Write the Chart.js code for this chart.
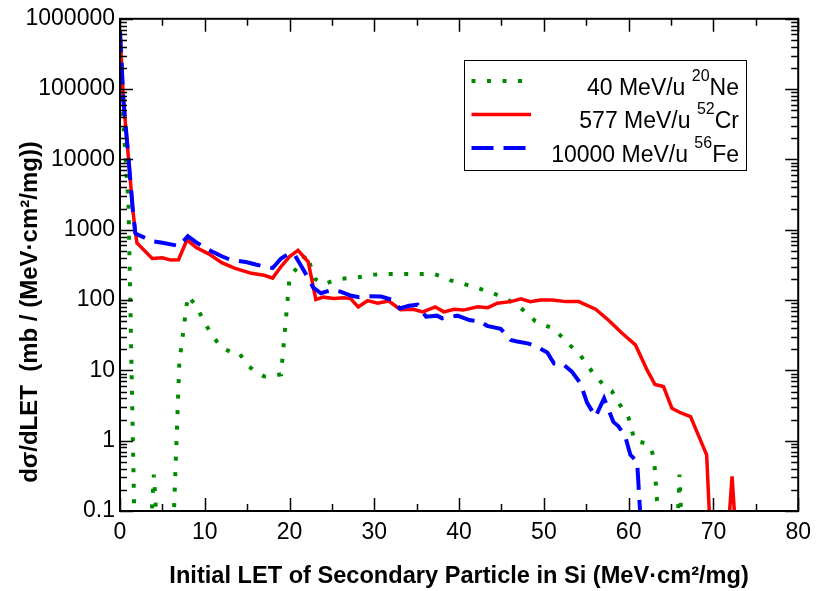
<!DOCTYPE html>
<html>
<head>
<meta charset="utf-8">
<script src="https://cdn.jsdelivr.net/npm/chart.js@4.4.1/dist/chart.umd.min.js"></script>
<style>
    html, body { margin: 0; padding: 0; background: #fff; }
    #wrap { width: 819px; height: 591px; }
</style>
</head>
<body>
<div id="wrap"><canvas id="letChart" width="819" height="591"></canvas></div>
<script>
// Data (x: LET in MeV·cm²/mg, y: dσ/dLET in mb/(MeV·cm²/mg))
const neLet = [0, 0.5, 1, 2, 3.5, 4, 4.5, 6, 7, 8, 9, 10, 11, 12, 13, 14, 15, 16, 17, 18, 19, 20, 21, 22, 23, 24, 25, 26, 28, 30, 32, 34, 36, 37, 38, 39, 40, 42, 44, 46, 47, 48, 49, 50, 51, 52, 53, 54, 55, 56, 57, 58, 59, 60, 60.7, 62, 62.6, 63, 64, 65.5, 66, 66.5];
const neSigma = [1.3e5, 2.2e4, 2300, 0.0008, 0.03, 0.33, 0.03, 0.006, 13, 115, 83, 47, 30, 21, 18.5, 18, 12, 9.5, 8.2, 8.3, 8.8, 210, 300, 450, 200, 168, 185, 200, 210, 230, 235, 235, 235, 235, 215, 190, 178, 150, 126, 97, 82, 65, 50, 44, 40, 31, 23, 18.5, 12.5, 8.5, 6.3, 5.1, 3.2, 2.1, 1.0, 0.92, 0.8, 0.55, 0.01, 0.01, 0.33, 0.01];

const crLet = [0, 0.4, 1, 1.5, 1.8, 2, 3.8, 5, 6, 6.9, 7.9, 9, 10.5, 12, 13.5, 15.5, 17, 18, 19, 20, 21, 22.2, 23.1, 24, 25.2, 26.4, 27.2, 28.1, 29.2, 30.4, 31.7, 33.1, 34.6, 35.7, 37.2, 38.2, 39.4, 40.5, 42.2, 43.4, 44.5, 46.1, 47.3, 48.4, 49.6, 51, 52.6, 54.1, 56.1, 57.6, 59.2, 60.8, 62.2, 63.1, 64.1, 65.1, 66.1, 67.3, 69.2, 70, 71.5, 72.2, 73];
const crSigma = [6.8e5, 7e4, 1.05e4, 2000, 950, 650, 390, 400, 370, 375, 720, 560, 450, 340, 285, 240, 225, 205, 300, 415, 510, 350, 102, 110, 105, 108, 105, 80, 98, 90, 97, 73, 74, 68, 80, 68, 74, 72, 80, 78, 90, 95, 104, 95, 100, 100, 95, 95, 74, 52, 34, 23, 10, 6.3, 5.9, 2.9, 2.5, 2.2, 0.63, 0.005, 0.02, 0.31, 0.01];

const feLet = [0, 0.4, 1, 1.5, 1.8, 2, 3, 4, 5, 6, 7, 8, 9, 10, 11, 12, 13, 14, 15, 16, 17, 18, 19, 20, 20.6, 21.6, 22.8, 23.7, 25, 26, 27.3, 28.2, 29.4, 30.8, 32.2, 33, 34.1, 35.1, 36.1, 37.4, 38, 39.8, 41.2, 42.4, 43.3, 44.9, 46.1, 46.7, 48.2, 49.4, 50.4, 51.2, 52.2, 53.3, 54.3, 55.1, 56.1, 57.1, 58.2, 58.8, 59.6, 60.2, 61, 62];
const feSigma = [6.8e5, 7e4, 1.05e4, 2000, 900, 860, 760, 680, 655, 620, 585, 810, 660, 560, 480, 420, 375, 360, 345, 320, 300, 285, 390, 465, 440, 275, 150, 125, 140, 132, 115, 110, 113, 112, 100, 76, 83, 86, 58, 60, 55, 60, 52, 50, 43, 39, 27, 26, 24, 21, 18, 12.5, 12.4, 9.6, 6.6, 3.45, 2.2, 4.0, 1.85, 1.6, 1.15, 0.63, 0.5, 0.005];

const xTicks = [0, 10, 20, 30, 40, 50, 60, 70, 80];
const yTicks = [0.1, 1, 10, 100, 1000, 10000, 100000, 1000000];
const yTickLabels = ['0.1', '1', '10', '100', '1000', '10000', '100000', '1000000'];

const legendEnergies = ['40 MeV/u', '577 MeV/u', '10000 MeV/u'];
const legendMasses = ['20', '52', '56'];
const legendElements = ['Ne', 'Cr', 'Fe'];

const xTitle = 'Initial LET of Secondary Particle in Si (MeV\u00b7cm\u00b2/mg)';
const yTitle = 'd\u03c3/dLET  (mb / (MeV\u00b7cm\u00b2/mg))';

const tickFont = '"Liberation Sans", Arial, sans-serif';
const titleFont = '"Liberation Sans Narrow", "Liberation Sans", Arial, sans-serif';

function toPoints(xs, ys) {
    return xs.map((x, i) => ({ x: x, y: ys[i] }));
}

// Box around the plot and inward ticks on all four sides
const frameTicks = {
    id: 'frameTicks',
    afterDraw(chart) {
        const { ctx, chartArea: a, scales: { x, y } } = chart;
        ctx.save();
        ctx.strokeStyle = '#000';
        ctx.lineWidth = 1.5;
        ctx.beginPath();
        for (let v = 0; v <= 80; v += 5) {
            const px = Math.round(x.getPixelForValue(v)) + 0.5;
            const len = v % 10 === 0 ? 13 : 7;
            ctx.moveTo(px, a.bottom); ctx.lineTo(px, a.bottom - len);
            ctx.moveTo(px, a.top); ctx.lineTo(px, a.top + len);
        }
        yTicks.forEach(d => {
            for (let m = 1; m <= 9; m++) {
                const v = d * m;
                if (v > 1e6 * 1.0001) break;
                const py = Math.round(y.getPixelForValue(v)) + 0.5;
                const len = m === 1 ? 13 : 7;
                ctx.moveTo(a.left, py); ctx.lineTo(a.left + len, py);
                ctx.moveTo(a.right, py); ctx.lineTo(a.right - len, py);
            }
        });
        ctx.stroke();
        ctx.lineWidth = 2;
        ctx.strokeRect(a.left, a.top, a.right - a.left, a.bottom - a.top);
        ctx.restore();
    }
};

// Y axis title, sitting low beside the axis as in the original
const yAxisTitle = {
    id: 'yAxisTitle',
    afterDraw(chart) {
        const ctx = chart.ctx;
        ctx.save();
        ctx.translate(30, 312);
        ctx.rotate(-Math.PI / 2);
        ctx.fillStyle = '#000';
        ctx.font = 'bold 24px ' + titleFont;
        ctx.textAlign = 'center';
        ctx.textBaseline = 'middle';
        ctx.fillText(yTitle, 0, 0);
        ctx.restore();
    }
};

// Legend with superscript mass numbers
const isoLegend = {
    id: 'isoLegend',
    afterDraw(chart) {
        const ctx = chart.ctx;
        const box = { left: 464.5, top: 60.5, right: 746.5, bottom: 170.5 };
        ctx.save();
        ctx.fillStyle = '#fff';
        ctx.fillRect(box.left, box.top, box.right - box.left, box.bottom - box.top);
        ctx.strokeStyle = '#000';
        ctx.lineWidth = 1;
        ctx.strokeRect(box.left, box.top, box.right - box.left, box.bottom - box.top);

        [0, 1, 2].forEach((i, row) => {
            const ds = chart.data.datasets[i];
            const baseY = 95 + row * 33.3;
            const lineY = 81 + row * 33.5;
            ctx.save();
            ctx.strokeStyle = ds.borderColor;
            ctx.lineWidth = ds.borderWidth;
            ctx.lineCap = 'butt';
            ctx.setLineDash(ds.borderDash || []);
            ctx.beginPath();
            ctx.moveTo(471.5, lineY);
            ctx.lineTo(531, lineY);
            ctx.stroke();
            ctx.restore();

            const mainF = '23px ' + tickFont;
            const supF = '16px ' + tickFont;
            ctx.fillStyle = '#000';
            ctx.textBaseline = 'alphabetic';
            ctx.font = mainF;
            const w1 = ctx.measureText(legendEnergies[i] + ' ').width;
            const w3 = ctx.measureText(legendElements[i]).width;
            ctx.font = supF;
            const w2 = ctx.measureText(legendMasses[i]).width;
            const x0 = 739 - (w1 + w2 + w3);
            ctx.font = mainF;
            ctx.fillText(legendEnergies[i] + ' ', x0, baseY);
            ctx.font = supF;
            ctx.fillText(legendMasses[i], x0 + w1, baseY - 14);
            ctx.font = mainF;
            ctx.fillText(legendElements[i], x0 + w1 + w2, baseY);
        });
        ctx.restore();
    }
};

const ctx = document.getElementById('letChart').getContext('2d');
const letChart = new Chart(ctx, {
    type: 'line',
    data: {
        datasets: [
            {
                label: '40 MeV/u 20Ne',
                data: toPoints(neLet, neSigma),
                borderColor: '#008a00',
                borderWidth: 4,
                borderDash: [4, 11.5],
                borderCapStyle: 'butt',
                order: 2
            },
            {
                label: '577 MeV/u 52Cr',
                data: toPoints(crLet, crSigma),
                borderColor: '#ff0000',
                borderWidth: 3.5,
                order: 1
            },
            {
                label: '10000 MeV/u 56Fe',
                data: toPoints(feLet, feSigma),
                borderColor: '#0000ff',
                borderWidth: 4,
                borderDash: [22, 10],
                borderCapStyle: 'butt',
                order: 0
            }
        ]
    },
    options: {
        responsive: false,
        animation: false,
        devicePixelRatio: 1,
        parsing: false,
        elements: {
            point: { radius: 0, hoverRadius: 0 },
            line: { tension: 0, fill: false }
        },
        layout: { padding: { left: 0, right: 19, top: 18, bottom: 0 } },
        plugins: {
            legend: { display: false },
            tooltip: { enabled: false }
        },
        scales: {
            x: {
                type: 'linear',
                min: 0,
                max: 80,
                afterBuildTicks: scale => { scale.ticks = xTicks.map(v => ({ value: v })); },
                afterFit: scale => { scale.height = 80; },
                grid: { display: false, drawTicks: false, tickLength: 0 },
                border: { display: false },
                ticks: {
                    color: '#000',
                    padding: 8,
                    maxRotation: 0,
                    autoSkip: false,
                    font: { family: tickFont, size: 23 },
                    callback: v => String(v)
                },
                title: {
                    display: true,
                    text: xTitle,
                    color: '#000',
                    padding: { top: 0, bottom: 0 },
                    font: { family: titleFont, size: 23.6, weight: 'bold' }
                }
            },
            y: {
                type: 'logarithmic',
                min: 0.1,
                max: 1000000,
                afterBuildTicks: scale => { scale.ticks = yTicks.map(v => ({ value: v })); },
                afterFit: scale => { scale.width = 120; },
                grid: { display: false, drawTicks: false, tickLength: 0 },
                border: { display: false },
                ticks: {
                    color: '#000',
                    padding: 5,
                    autoSkip: false,
                    font: { family: tickFont, size: 23 },
                    callback: (v, i) => yTickLabels[i]
                }
            }
        }
    },
    plugins: [frameTicks, yAxisTitle, isoLegend]
});
</script>
</body>
</html>
